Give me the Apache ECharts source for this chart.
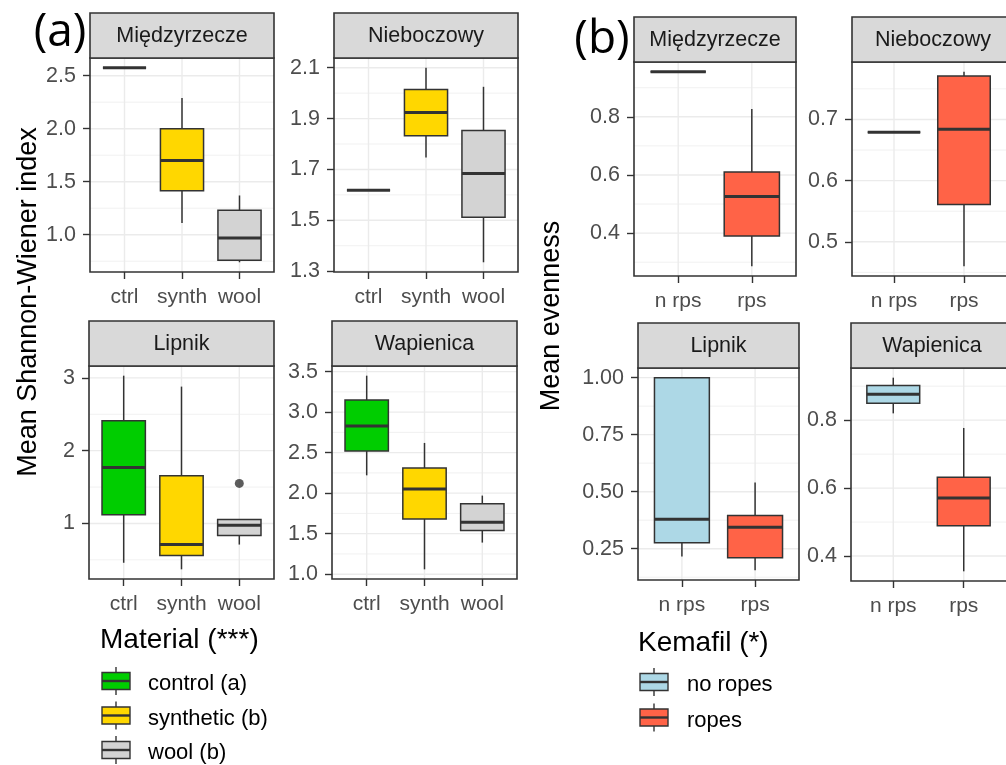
<!DOCTYPE html>
<html><head><meta charset="utf-8">
<script src="https://cdn.jsdelivr.net/npm/echarts@6/dist/echarts.min.js"></script>
<style>html,body{margin:0;padding:0;background:#fff}#c{width:1006px;height:765px}</style>
</head><body><div id="c"></div>
<script>
// ---------------- DATA ----------------
const materialCats = ['ctrl', 'synth', 'wool'];
const kemafilCats = ['n rps', 'rps'];
const siteNames = ['Międzyrzecze', 'Nieboczowy', 'Lipnik', 'Wapienica'];
const materialLegendLabels = ['control (a)', 'synthetic (b)', 'wool (b)'];
const kemafilLegendLabels = ['no ropes', 'ropes'];
const materialLegendTitle = 'Material (***)';
const kemafilLegendTitle = 'Kemafil (*)';
const shannonTitle = 'Mean Shannon-Wiener index';
const evennessTitle = 'Mean evenness';

// box stats: [lower whisker, Q1, median, Q3, upper whisker], one row per category
const shannonMiedzyrzecze = [[2.575, 2.575, 2.575, 2.575, 2.575], [1.11, 1.415, 1.70, 2.00, 2.29], [0.74, 0.76, 0.97, 1.23, 1.37]];
const shannonNieboczowy = [[1.618, 1.618, 1.618, 1.618, 1.618], [1.747, 1.833, 1.924, 2.014, 2.10], [1.335, 1.512, 1.684, 1.853, 2.025]];
const shannonLipnik = [[0.46, 1.12, 1.77, 2.41, 3.03], [0.37, 0.56, 0.71, 1.655, 2.88], [0.71, 0.835, 0.975, 1.055, 1.055]];
const shannonWapienica = [[2.22, 2.52, 2.83, 3.15, 3.45], [1.06, 1.68, 2.05, 2.31, 2.62], [1.39, 1.54, 1.64, 1.87, 1.97]];
const evenMiedzyrzecze = [[0.955, 0.955, 0.955, 0.955, 0.955], [0.286, 0.39, 0.526, 0.61, 0.827]];
const evenNieboczowy = [[0.679, 0.679, 0.679, 0.679, 0.679], [0.46, 0.561, 0.684, 0.771, 0.778]];
const evenLipnik = [[0.216, 0.276, 0.379, 1.0, 1.0], [0.155, 0.21, 0.344, 0.396, 0.54]];
const evenWapienica = [[0.82, 0.85, 0.876, 0.902, 0.925], [0.355, 0.489, 0.571, 0.632, 0.777]];

// outliers per category
const shannonLipnikOutliers = [[], [], [1.55]];

// y tick labels
const ticksShannonMiedzyrzecze = ['1.0', '1.5', '2.0', '2.5'];
const ticksShannonNieboczowy = ['1.3', '1.5', '1.7', '1.9', '2.1'];
const ticksShannonLipnik = ['1', '2', '3'];
const ticksShannonWapienica = ['1.0', '1.5', '2.0', '2.5', '3.0', '3.5'];
const ticksEvenMiedzyrzecze = ['0.4', '0.6', '0.8'];
const ticksEvenNieboczowy = ['0.5', '0.6', '0.7'];
const ticksEvenLipnik = ['0.25', '0.50', '0.75', '1.00'];
const ticksEvenWapienica = ['0.4', '0.6', '0.8'];

// ---------------- STYLE / LAYOUT ----------------
const FONT = '"Liberation Sans", Arial, Helvetica, sans-serif';
const materialColors = ['#00CD00', '#FFD700', '#D3D3D3'];
const kemafilColors = ['#ADD8E6', '#FF6347'];
const INK = '#333333';
const STRIP_H = 45;

const panels = [
  { title: siteNames[0], cats: materialCats, colors: materialColors, stats: shannonMiedzyrzecze, ticks: ticksShannonMiedzyrzecze, box: { left: 90, top: 58, width: 184, height: 214 } },
  { title: siteNames[1], cats: materialCats, colors: materialColors, stats: shannonNieboczowy, ticks: ticksShannonNieboczowy, box: { left: 334, top: 58, width: 184, height: 214 } },
  { title: siteNames[2], cats: materialCats, colors: materialColors, stats: shannonLipnik, outliers: shannonLipnikOutliers, ticks: ticksShannonLipnik, box: { left: 89, top: 366, width: 185, height: 213 } },
  { title: siteNames[3], cats: materialCats, colors: materialColors, stats: shannonWapienica, ticks: ticksShannonWapienica, box: { left: 332, top: 366, width: 185, height: 213 } },
  { title: siteNames[0], cats: kemafilCats, colors: kemafilColors, stats: evenMiedzyrzecze, ticks: ticksEvenMiedzyrzecze, box: { left: 634, top: 62, width: 162, height: 214 } },
  { title: siteNames[1], cats: kemafilCats, colors: kemafilColors, stats: evenNieboczowy, ticks: ticksEvenNieboczowy, box: { left: 852, top: 62, width: 162, height: 214 } },
  { title: siteNames[2], cats: kemafilCats, colors: kemafilColors, stats: evenLipnik, ticks: ticksEvenLipnik, box: { left: 638, top: 368, width: 161, height: 212 } },
  { title: siteNames[3], cats: kemafilCats, colors: kemafilColors, stats: evenWapienica, ticks: ticksEvenWapienica, box: { left: 851, top: 368, width: 162, height: 213 } }
];

const r6 = v => Math.round(v * 1e6) / 1e6;

const grid = [], xAxis = [], yAxis = [], series = [], graphic = [];

panels.forEach((p, i) => {
  const n = p.cats.length;
  const allVals = [];
  p.stats.forEach(s => allVals.push(...s));
  if (p.outliers) p.outliers.forEach(o => allVals.push(...o));
  const dmin = Math.min(...allVals), dmax = Math.max(...allVals);
  const pad = (dmax - dmin) * 0.05;
  const ymin = dmin - pad, ymax = dmax + pad;
  const tickVals = p.ticks.map(parseFloat);
  const step = tickVals[1] - tickVals[0];
  const minors = [];
  for (let v = tickVals[0] - step / 2; v <= tickVals[tickVals.length - 1] + step / 2 + 1e-9; v += step) {
    const rv = r6(v);
    if (rv > ymin && rv < ymax) minors.push(rv);
  }
  const xVals = p.cats.map((c, k) => k + 1);

  grid.push({ left: p.box.left, top: p.box.top, width: p.box.width, height: p.box.height, show: false });
  xAxis.push({
    type: 'value', gridIndex: i, min: 0.4, max: n + 0.6,
    axisLine: { show: false }, splitLine: { show: false },
    axisTick: { show: true, length: 7, lineStyle: { color: INK, width: 1.4 }, customValues: xVals },
    axisLabel: { customValues: xVals, margin: 15, color: '#4D4D4D', fontSize: 21, fontFamily: FONT,
      formatter: v => p.cats[Math.round(v) - 1] || '' }
  });
  yAxis.push({
    type: 'value', gridIndex: i, min: ymin, max: ymax,
    axisLine: { show: false }, splitLine: { show: false },
    axisTick: { show: true, length: 7, lineStyle: { color: INK, width: 1.4 }, customValues: tickVals },
    axisLabel: { customValues: tickVals, margin: 14, color: '#4D4D4D', fontSize: 21.5, fontFamily: FONT,
      formatter: v => { const k = tickVals.findIndex(t => Math.abs(t - v) < 1e-7); return k >= 0 ? p.ticks[k] : ''; } }
  });

  // grid lines
  const gl = [];
  minors.forEach(v => gl.push([0, v, 0]));
  tickVals.forEach(v => gl.push([0, v, 1]));
  xVals.forEach(v => gl.push([1, v, 1]));
  series.push({
    type: 'custom', xAxisIndex: i, yAxisIndex: i, z: 1, silent: true, clip: true,
    data: gl,
    renderItem: (params, api) => {
      const cs = params.coordSys;
      const kind = api.value(0), v = api.value(1), major = api.value(2);
      let shape;
      if (kind === 0) {
        const y = api.coord([1, v])[1];
        shape = { x1: cs.x, y1: y, x2: cs.x + cs.width, y2: y };
      } else {
        const x = api.coord([v, ymin])[0];
        shape = { x1: x, y1: cs.y, x2: x, y2: cs.y + cs.height };
      }
      return { type: 'line', shape, style: { stroke: '#EBEBEB', lineWidth: major ? 1.4 : 0.7 } };
    }
  });

  // boxes
  const boxData = p.stats.map((s, k) => [k + 1, s[0], s[1], s[2], s[3], s[4], k]);
  series.push({
    type: 'custom', xAxisIndex: i, yAxisIndex: i, z: 3, silent: true,
    data: boxData,
    renderItem: (params, api) => {
      const x = api.value(0);
      const w = api.size([0.75, 0])[0];
      const px = api.coord([x, api.value(3)])[0];
      const yLo = api.coord([x, api.value(1)])[1];
      const yQ1 = api.coord([x, api.value(2)])[1];
      const yMed = api.coord([x, api.value(3)])[1];
      const yQ3 = api.coord([x, api.value(4)])[1];
      const yHi = api.coord([x, api.value(5)])[1];
      const fill = p.colors[api.value(6)];
      return {
        type: 'group', children: [
          { type: 'line', shape: { x1: px, y1: yHi, x2: px, y2: yQ3 }, style: { stroke: INK, lineWidth: 1.5 } },
          { type: 'line', shape: { x1: px, y1: yQ1, x2: px, y2: yLo }, style: { stroke: INK, lineWidth: 1.5 } },
          { type: 'rect', shape: { x: px - w / 2, y: yQ3, width: w, height: yQ1 - yQ3 }, style: { fill, stroke: INK, lineWidth: 1.5 } },
          { type: 'line', shape: { x1: px - w / 2, y1: yMed, x2: px + w / 2, y2: yMed }, style: { stroke: INK, lineWidth: 3 } }
        ]
      };
    }
  });

  if (p.outliers) {
    const od = [];
    p.outliers.forEach((arr, k) => arr.forEach(v => od.push([k + 1, v])));
    series.push({ type: 'scatter', xAxisIndex: i, yAxisIndex: i, z: 4, silent: true, symbolSize: 9,
      itemStyle: { color: INK }, data: od });
  }

  // panel border and strip
  const b = p.box;
  graphic.push({ type: 'rect', z: 100, silent: true, shape: { x: b.left, y: b.top, width: b.width, height: b.height },
    style: { fill: 'none', stroke: INK, lineWidth: 1.6 } });
  graphic.push({ type: 'rect', z: 100, silent: true, shape: { x: b.left, y: b.top - STRIP_H, width: b.width, height: STRIP_H },
    style: { fill: '#D9D9D9', stroke: INK, lineWidth: 1.6 } });
  graphic.push({ type: 'text', z: 101, silent: true, x: b.left + b.width / 2, y: b.top - STRIP_H / 2 + 1,
    style: { text: p.title, fill: '#1A1A1A', font: '21.5px ' + FONT, textAlign: 'center', textVerticalAlign: 'middle' } });
});

// titles
graphic.push({ type: 'text', z: 101, x: 29, y: 302, rotation: Math.PI / 2,
  style: { text: shannonTitle, fill: '#000', font: '27px ' + FONT, textAlign: 'center', textVerticalAlign: 'middle' } });
graphic.push({ type: 'text', z: 101, x: 552, y: 316, rotation: Math.PI / 2,
  style: { text: evennessTitle, fill: '#000', font: '27px ' + FONT, textAlign: 'center', textVerticalAlign: 'middle' } });
graphic.push({ type: 'text', z: 101, x: 60, y: 33,
  style: { text: '(a)', fill: '#000', font: '46px "Open Sans", "DejaVu Sans", sans-serif', textAlign: 'center', textVerticalAlign: 'middle' } });
graphic.push({ type: 'text', z: 101, x: 602, y: 40,
  style: { text: '(b)', fill: '#000', font: '46px "Open Sans", "DejaVu Sans", sans-serif', textAlign: 'center', textVerticalAlign: 'middle' } });

// legends
function addLegend(title, labels, colors, x0, titleY, firstKeyY, gap, textX) {
  graphic.push({ type: 'text', z: 101, x: x0, y: titleY,
    style: { text: title, fill: '#000', font: '28px ' + FONT, textAlign: 'left', textVerticalAlign: 'middle' } });
  labels.forEach((lab, k) => {
    const cy = firstKeyY + k * gap;
    const cx = x0 + 16;
    graphic.push({ type: 'line', z: 101, shape: { x1: cx, y1: cy - 14, x2: cx, y2: cy + 14 }, style: { stroke: INK, lineWidth: 1.4 } });
    graphic.push({ type: 'rect', z: 102, shape: { x: cx - 14, y: cy - 8.5, width: 28, height: 17 }, style: { fill: colors[k], stroke: INK, lineWidth: 1.4 } });
    graphic.push({ type: 'line', z: 103, shape: { x1: cx - 14, y1: cy, x2: cx + 14, y2: cy }, style: { stroke: INK, lineWidth: 2.4 } });
    graphic.push({ type: 'text', z: 101, x: textX, y: cy + 3,
      style: { text: lab, fill: '#000', font: '22px ' + FONT, textAlign: 'left', textVerticalAlign: 'middle' } });
  });
}
addLegend(materialLegendTitle, materialLegendLabels, materialColors, 100, 640, 681, 34.5, 148);
addLegend(kemafilLegendTitle, kemafilLegendLabels, kemafilColors, 638, 643, 682, 35.5, 687);

const chart = echarts.init(document.getElementById('c'), null, { renderer: 'canvas' });
chart.setOption({
  backgroundColor: '#ffffff',
  animation: false,
  textStyle: { fontFamily: FONT },
  grid, xAxis, yAxis, series, graphic
});
</script></body></html>
